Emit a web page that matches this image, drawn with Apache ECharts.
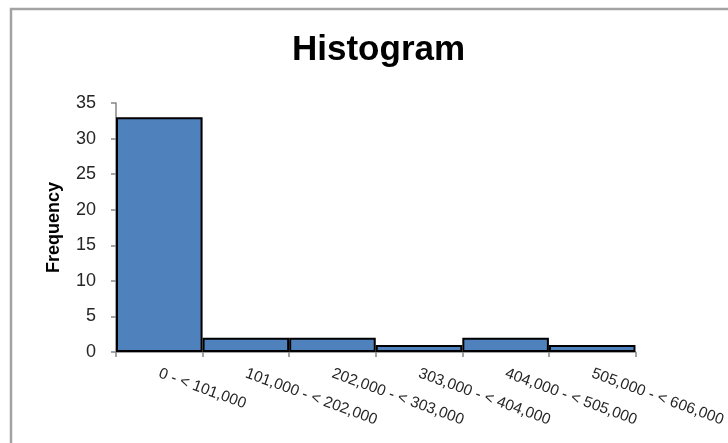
<!DOCTYPE html>
<html>
<head>
<meta charset="utf-8">
<script src="https://cdn.jsdelivr.net/npm/echarts@6/dist/echarts.min.js"></script>
<style>
  html, body { margin: 0; padding: 0; background: #ffffff; }
  #chart { width: 728px; height: 443px; }
</style>
</head>
<body>
<div id="chart"></div>
<script>
// Histogram bins and their counts
const binLabels = [
  '0 - < 101,000',
  '101,000 - < 202,000',
  '202,000 - < 303,000',
  '303,000 - < 404,000',
  '404,000 - < 505,000',
  '505,000 - < 606,000'
];
const frequencies = [33, 2, 2, 1, 2, 1];
const yMin = 0;
const yMax = 35;
const yStep = 5;

const font = 'Liberation Sans, Arial, sans-serif';
const chart = echarts.init(document.getElementById('chart'), null, { renderer: 'canvas' });

chart.setOption({
  backgroundColor: '#ffffff',
  animation: false,
  graphic: [{
    type: 'rect',
    shape: { x: 11, y: 9, width: 760, height: 480 },
    style: { fill: 'none', stroke: '#a3a3a3', lineWidth: 2.5 },
    silent: true
  }, {
    type: 'text',
    left: 292,
    top: 33,
    style: {
      text: 'Histogram',
      fontFamily: font,
      fontSize: 35,
      fontWeight: 'bold',
      fill: '#000000'
    },
    silent: true
  }],
  grid: { left: 116, right: 86, top: 103, bottom: 91, containLabel: false },
  xAxis: {
    type: 'category',
    data: binLabels,
    boundaryGap: true,
    axisLine: { lineStyle: { color: '#868686', width: 1.5 } },
    axisTick: { show: true, length: 5, alignWithLabel: false, lineStyle: { color: '#868686', width: 1.5 } },
    axisLabel: {
      rotate: -20,
      margin: 21,
      interval: 0,
      fontFamily: font,
      fontSize: 15.5,
      color: '#262626'
    },
    splitLine: { show: false }
  },
  yAxis: {
    type: 'value',
    min: yMin,
    max: yMax,
    interval: yStep,
    name: 'Frequency',
    nameLocation: 'middle',
    nameRotate: 90,
    nameGap: 53,
    nameTextStyle: { fontFamily: font, fontSize: 18, fontWeight: 'bold', color: '#000000' },
    axisLine: { show: true, lineStyle: { color: '#868686', width: 1.5 } },
    axisTick: { show: true, length: 5, lineStyle: { color: '#868686', width: 1.5 } },
    axisLabel: { margin: 20, fontFamily: font, fontSize: 18, color: '#262626' },
    splitLine: { show: false }
  },
  series: [{
    type: 'bar',
    data: frequencies,
    barCategoryGap: '0%',
    itemStyle: { color: '#4F81BD', borderColor: '#000000', borderWidth: 2 }
  }]
});
</script>
</body>
</html>
